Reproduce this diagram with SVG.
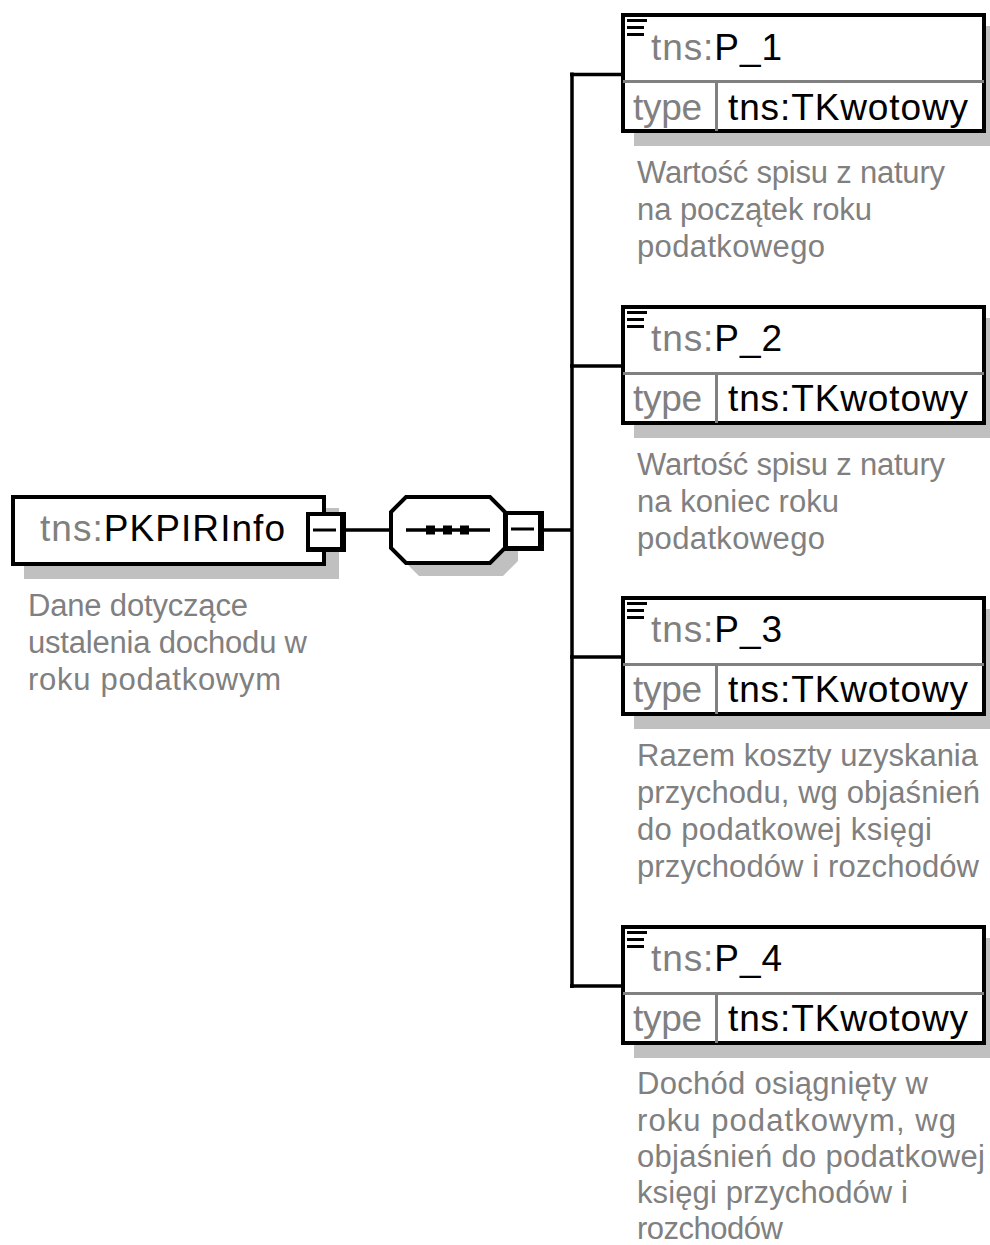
<svg xmlns="http://www.w3.org/2000/svg" width="990" height="1245" viewBox="0 0 990 1245">
<style>
text{font-family:"Liberation Sans",Arial,sans-serif}
.t{font-size:37px;fill:#000}
.g{fill:#808080}
.d{font-size:31px;fill:#808080}
.sh{fill:#c0c0c0}
.box{fill:#fff;stroke:#000;stroke-width:4}
.sep{stroke:#808080;stroke-width:3}
.ln{stroke:#000;stroke-width:3.5;fill:none}
.blk{fill:#000}
.wht{fill:#fff}
</style>
<defs>
<g id="icon">
<rect x="0" y="0" width="20" height="3"/>
<rect x="0" y="7" width="17" height="3"/>
<rect x="0" y="14" width="17" height="3"/>
</g>
<g id="exp">
<rect x="0" y="0" width="40" height="40" class="blk"/>
<rect x="4" y="4" width="30" height="31" class="wht"/>
<rect x="7" y="16.5" width="23" height="3" class="blk"/>
</g>
</defs>

<g id="connectors">
<line class="ln" x1="346" y1="530" x2="391" y2="530"/>
<line class="ln" x1="544" y1="530" x2="572" y2="530"/>
<line class="ln" x1="572" y1="72.5" x2="572" y2="988"/>
<line class="ln" x1="570" y1="74.5" x2="622" y2="74.5"/>
<line class="ln" x1="570" y1="366" x2="622" y2="366"/>
<line class="ln" x1="570" y1="657" x2="622" y2="657"/>
<line class="ln" x1="570" y1="986" x2="622" y2="986"/>
</g>

<g id="root">
<rect class="sh" x="24" y="508" width="315" height="71"/>
<rect class="box" x="13" y="497" width="311" height="67"/>
<text class="t" x="40" y="541" textLength="245" lengthAdjust="spacing"><tspan class="g">tns:</tspan>PKPIRInfo</text>
<use href="#exp" x="306" y="512"/>
<text class="d" x="28" y="616" textLength="220" lengthAdjust="spacing">Dane dotyczące</text>
<text class="d" x="28" y="653" textLength="279" lengthAdjust="spacing">ustalenia dochodu w</text>
<text class="d" x="28" y="690" textLength="253" lengthAdjust="spacing">roku podatkowym</text>
</g>

<g id="sequence">
<polygon class="sh" points="419,510 503,510 518,525 518,561 503,576 419,576 404,561 404,525"/>
<polygon fill="#fff" stroke="#000" stroke-width="4" points="406,497 490,497 505,512 505,548 490,563 406,563 391,548 391,512"/>
<line class="ln" x1="406" y1="530" x2="490" y2="530"/>
<rect class="blk" x="426" y="525.5" width="9" height="9"/>
<rect class="blk" x="443" y="525.5" width="9" height="9"/>
<rect class="blk" x="460" y="525.5" width="9" height="9"/>
<use href="#exp" x="504" y="511"/>
</g>

<g id="P_1">
<rect class="sh" x="634" y="26" width="365" height="120"/>
<rect class="box" x="623" y="15" width="361" height="116"/>
<line class="sep" x1="623" y1="81.5" x2="984" y2="81.5"/>
<line class="sep" x1="716.5" y1="83" x2="716.5" y2="131"/>
<use href="#icon" x="627" y="19"/>
<text class="t" x="651" y="60" textLength="131" lengthAdjust="spacing"><tspan class="g">tns:</tspan>P_1</text>
<text class="t g" x="633" y="120" textLength="69" lengthAdjust="spacing">type</text>
<text class="t" x="728" y="120" textLength="240" lengthAdjust="spacing">tns:TKwotowy</text>
<text class="d" x="637" y="183" textLength="308" lengthAdjust="spacing">Wartość spisu z natury</text>
<text class="d" x="637" y="220" textLength="235" lengthAdjust="spacing">na początek roku</text>
<text class="d" x="637" y="257" textLength="188" lengthAdjust="spacing">podatkowego</text>
</g>

<g id="P_2">
<rect class="sh" x="634" y="318" width="365" height="120"/>
<rect class="box" x="623" y="307" width="361" height="116"/>
<line class="sep" x1="623" y1="373.5" x2="984" y2="373.5"/>
<line class="sep" x1="716.5" y1="375" x2="716.5" y2="423"/>
<use href="#icon" x="627" y="311"/>
<text class="t" x="651" y="351" textLength="131" lengthAdjust="spacing"><tspan class="g">tns:</tspan>P_2</text>
<text class="t g" x="633" y="411" textLength="69" lengthAdjust="spacing">type</text>
<text class="t" x="728" y="411" textLength="240" lengthAdjust="spacing">tns:TKwotowy</text>
<text class="d" x="637" y="475" textLength="308" lengthAdjust="spacing">Wartość spisu z natury</text>
<text class="d" x="637" y="512" textLength="202" lengthAdjust="spacing">na koniec roku</text>
<text class="d" x="637" y="549" textLength="188" lengthAdjust="spacing">podatkowego</text>
</g>

<g id="P_3">
<rect class="sh" x="634" y="609" width="365" height="120"/>
<rect class="box" x="623" y="598" width="361" height="116"/>
<line class="sep" x1="623" y1="664.5" x2="984" y2="664.5"/>
<line class="sep" x1="716.5" y1="666" x2="716.5" y2="714"/>
<use href="#icon" x="627" y="602"/>
<text class="t" x="651" y="642" textLength="131" lengthAdjust="spacing"><tspan class="g">tns:</tspan>P_3</text>
<text class="t g" x="633" y="702" textLength="69" lengthAdjust="spacing">type</text>
<text class="t" x="728" y="702" textLength="240" lengthAdjust="spacing">tns:TKwotowy</text>
<text class="d" x="637" y="766" textLength="341" lengthAdjust="spacing">Razem koszty uzyskania</text>
<text class="d" x="637" y="803" textLength="343" lengthAdjust="spacing">przychodu, wg objaśnień</text>
<text class="d" x="637" y="840" textLength="295" lengthAdjust="spacing">do podatkowej księgi</text>
<text class="d" x="637" y="877" textLength="342" lengthAdjust="spacing">przychodów i rozchodów</text>
</g>

<g id="P_4">
<rect class="sh" x="634" y="938" width="365" height="120"/>
<rect class="box" x="623" y="927" width="361" height="116"/>
<line class="sep" x1="623" y1="993.5" x2="984" y2="993.5"/>
<line class="sep" x1="716.5" y1="995" x2="716.5" y2="1043"/>
<use href="#icon" x="627" y="931"/>
<text class="t" x="651" y="971" textLength="131" lengthAdjust="spacing"><tspan class="g">tns:</tspan>P_4</text>
<text class="t g" x="633" y="1031" textLength="69" lengthAdjust="spacing">type</text>
<text class="t" x="728" y="1031" textLength="240" lengthAdjust="spacing">tns:TKwotowy</text>
<text class="d" x="637" y="1094" textLength="291" lengthAdjust="spacing">Dochód osiągnięty w</text>
<text class="d" x="637" y="1131" textLength="319" lengthAdjust="spacing">roku podatkowym, wg</text>
<text class="d" x="637" y="1167" textLength="348" lengthAdjust="spacing">objaśnień do podatkowej</text>
<text class="d" x="637" y="1203" textLength="271" lengthAdjust="spacing">księgi przychodów i</text>
<text class="d" x="637" y="1239" textLength="146" lengthAdjust="spacing">rozchodów</text>
</g>
</svg>
